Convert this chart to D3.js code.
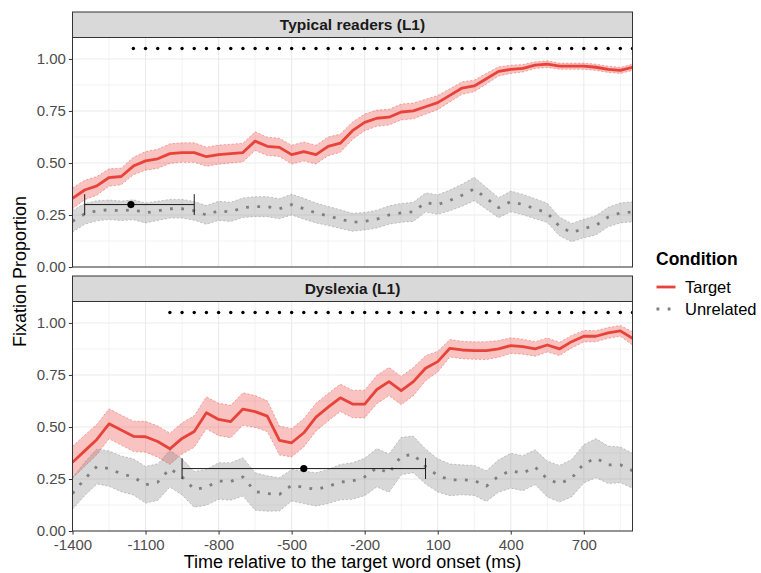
<!DOCTYPE html>
<html>
<head>
<meta charset="utf-8">
<script src="https://cdnjs.cloudflare.com/ajax/libs/d3/7.8.5/d3.min.js"></script>
<style>
body { margin: 0; background: #fff; }
text { font-family: "Liberation Sans", Arial, Helvetica, sans-serif; }
</style>
</head>
<body>
<div id="container1"></div>
<script>
// time bins (ms)
const times = [-1400,-1350,-1300,-1250,-1200,-1150,-1100,-1050,-1000,-950,-900,-850,-800,-750,-700,-650,-600,-550,-500,-450,-400,-350,-300,-250,-200,-150,-100,-50,0,50,100,150,200,250,300,350,400,450,500,550,600,650,700,750,800,850,900];

// Typical readers
const typicalTarget = [0.33,0.37,0.39,0.43,0.435,0.485,0.51,0.52,0.545,0.55,0.55,0.53,0.54,0.545,0.55,0.605,0.58,0.575,0.54,0.555,0.54,0.58,0.595,0.655,0.695,0.715,0.72,0.745,0.75,0.77,0.79,0.825,0.86,0.87,0.905,0.94,0.95,0.955,0.97,0.975,0.965,0.965,0.965,0.96,0.95,0.945,0.96];
const typicalTargetCI = [0.05,0.047,0.045,0.042,0.04,0.042,0.045,0.046,0.047,0.047,0.047,0.046,0.046,0.045,0.045,0.045,0.044,0.044,0.045,0.046,0.045,0.045,0.044,0.042,0.04,0.039,0.038,0.038,0.038,0.036,0.034,0.032,0.03,0.028,0.026,0.022,0.02,0.018,0.016,0.016,0.015,0.015,0.015,0.015,0.015,0.015,0.015];
const typicalUnrelated = [0.22,0.255,0.27,0.275,0.27,0.275,0.26,0.27,0.28,0.28,0.27,0.25,0.27,0.265,0.285,0.29,0.29,0.28,0.30,0.28,0.26,0.245,0.23,0.215,0.22,0.23,0.25,0.26,0.265,0.31,0.30,0.32,0.345,0.375,0.33,0.285,0.315,0.30,0.28,0.26,0.195,0.165,0.185,0.20,0.24,0.26,0.265];
const typicalUnrelatedCI = [0.052,0.05,0.048,0.047,0.047,0.048,0.048,0.046,0.045,0.045,0.045,0.045,0.046,0.046,0.047,0.048,0.048,0.048,0.05,0.05,0.048,0.046,0.045,0.043,0.042,0.043,0.044,0.045,0.046,0.046,0.047,0.05,0.053,0.056,0.052,0.048,0.05,0.049,0.048,0.046,0.045,0.044,0.045,0.046,0.047,0.048,0.048];

// Dyslexia
const dyslexiaTarget = [0.33,0.385,0.44,0.515,0.485,0.455,0.453,0.43,0.395,0.445,0.478,0.568,0.536,0.526,0.586,0.574,0.552,0.435,0.424,0.472,0.547,0.595,0.64,0.61,0.61,0.68,0.718,0.675,0.718,0.782,0.814,0.878,0.87,0.867,0.867,0.875,0.891,0.886,0.875,0.894,0.875,0.91,0.936,0.936,0.952,0.962,0.926];
const dyslexiaTargetCI = [0.077,0.075,0.073,0.072,0.072,0.073,0.074,0.075,0.075,0.075,0.076,0.077,0.078,0.078,0.078,0.077,0.074,0.07,0.068,0.068,0.067,0.066,0.066,0.066,0.067,0.068,0.068,0.068,0.068,0.06,0.05,0.042,0.042,0.042,0.043,0.04,0.038,0.036,0.035,0.034,0.032,0.03,0.028,0.027,0.026,0.026,0.032];
const dyslexiaUnrelated = [0.18,0.25,0.31,0.30,0.275,0.26,0.222,0.235,0.30,0.26,0.20,0.21,0.24,0.238,0.26,0.19,0.18,0.176,0.22,0.21,0.20,0.214,0.235,0.24,0.26,0.304,0.278,0.36,0.368,0.31,0.267,0.246,0.246,0.243,0.216,0.264,0.29,0.278,0.307,0.25,0.227,0.254,0.323,0.35,0.318,0.318,0.29];
const dyslexiaUnrelatedCI = [0.076,0.08,0.084,0.085,0.086,0.087,0.088,0.088,0.088,0.087,0.086,0.086,0.088,0.09,0.092,0.09,0.085,0.08,0.076,0.078,0.08,0.082,0.085,0.088,0.09,0.092,0.092,0.09,0.088,0.084,0.08,0.076,0.072,0.072,0.074,0.078,0.084,0.084,0.084,0.086,0.088,0.09,0.092,0.094,0.09,0.086,0.084];

// significant bins start (dots at 1.05) and divergence point estimates
const panelNames = ['Typical readers (L1)', 'Dyslexia (L1)'];
const sigStart = [-1150, -1000];
const divergence = [{mean: -1160, lo: -1350, hi: -900, y: 0.30}, {mean: -450, lo: -950, hi: 50, y: 0.30}];

const xTicks = [-1400,-1100,-800,-500,-200,100,400,700];
const xMinor = [-1250,-950,-650,-350,-50,250,550,850];
const yTicks = [0, 0.25, 0.5, 0.75, 1];
const yMinor = [0.125, 0.375, 0.625, 0.875];

const conditions = ['Target', 'Unrelated'];
const colors = {Target: '#E8433A', Unrelated: '#7F7F7F'};

const W = 761, H = 573;
const left = 72.5, right = 632.5;
const panelTops = [37.5, 301.5];
const panelH = 229.5;
const stripH = 25.5;

const panels = [
    {name: panelNames[0], Target: typicalTarget, TargetCI: typicalTargetCI, Unrelated: typicalUnrelated, UnrelatedCI: typicalUnrelatedCI},
    {name: panelNames[1], Target: dyslexiaTarget, TargetCI: dyslexiaTargetCI, Unrelated: dyslexiaUnrelated, UnrelatedCI: dyslexiaUnrelatedCI}
];

const x = d3.scaleLinear().domain([-1400, 900]).range([left, right]);

let svg = d3.select('div#container1')
    .append('svg')
    .attr('width', W)
    .attr('height', H)
    .style('background-color', 'white');

panels.forEach(function(p, pi){
    const top = panelTops[pi];
    const bottom = top + panelH;
    const y = d3.scaleLinear().domain([0, 1.103]).range([bottom, top]);

    let g = svg.append('g');

    g.append('clipPath').attr('id', 'clip' + pi)
        .append('rect')
        .attr('x', left).attr('y', top)
        .attr('width', right - left).attr('height', panelH);

    // strip
    g.append('rect')
        .attr('x', left).attr('y', top - stripH)
        .attr('width', right - left).attr('height', stripH)
        .style('fill', '#D9D9D9')
        .style('stroke', '#333333')
        .style('stroke-width', 1);
    g.append('text')
        .attr('x', (left + right) / 2)
        .attr('y', top - stripH / 2 + 5.5)
        .attr('text-anchor', 'middle')
        .style('font-size', '15.5px')
        .style('font-weight', 'bold')
        .style('fill', '#1A1A1A')
        .text(p.name);

    // grid
    g.selectAll('.xminor').data(xMinor).enter().append('line')
        .attr('x1', d => x(d)).attr('x2', d => x(d))
        .attr('y1', top).attr('y2', bottom)
        .style('stroke', '#EBEBEB').style('stroke-width', 0.6);
    g.selectAll('.yminor').data(yMinor).enter().append('line')
        .attr('x1', left).attr('x2', right)
        .attr('y1', d => y(d)).attr('y2', d => y(d))
        .style('stroke', '#EBEBEB').style('stroke-width', 0.6);
    g.selectAll('.xmajor').data(xTicks).enter().append('line')
        .attr('x1', d => x(d)).attr('x2', d => x(d))
        .attr('y1', top).attr('y2', bottom)
        .style('stroke', '#EBEBEB').style('stroke-width', 1.1);
    g.selectAll('.ymajor').data(yTicks).enter().append('line')
        .attr('x1', left).attr('x2', right)
        .attr('y1', d => y(d)).attr('y2', d => y(d))
        .style('stroke', '#EBEBEB').style('stroke-width', 1.1);

    let plot = g.append('g').attr('clip-path', 'url(#clip' + pi + ')');

    // ribbons
    conditions.forEach(function(c){
        const rows = times.map((t, i) => ({t: t, m: p[c][i], lo: p[c][i] - p[c + 'CI'][i], hi: p[c][i] + p[c + 'CI'][i]}));
        plot.append('path')
            .datum(rows)
            .attr('d', d3.area().x(d => x(d.t)).y0(d => y(d.lo)).y1(d => y(d.hi)))
            .style('fill', colors[c])
            .style('fill-opacity', c == 'Target' ? 0.32 : 0.3)
            .style('stroke', 'none');
        ['lo', 'hi'].forEach(function(k){
            plot.append('path')
                .datum(rows)
                .attr('d', d3.line().x(d => x(d.t)).y(d => y(d[k])))
                .style('fill', 'none')
                .style('stroke', colors[c])
                .style('stroke-opacity', 0.7)
                .style('stroke-width', 0.6)
                .style('stroke-dasharray', '2,2');
        });
    });

    // mean lines
    conditions.forEach(function(c){
        const rows = times.map((t, i) => ({t: t, m: p[c][i]}));
        let path = plot.append('path')
            .datum(rows)
            .attr('d', d3.line().x(d => x(d.t)).y(d => y(d.m)))
            .style('fill', 'none')
            .style('stroke', colors[c])
            .style('stroke-width', 2.8)
            .style('stroke-linejoin', 'round');
        if (c == 'Unrelated') path.style('stroke-dasharray', '2.8,8.4');
    });

    // significance dots
    plot.selectAll('.sig')
        .data(times.filter(t => t >= sigStart[pi]))
        .enter().append('circle')
        .attr('cx', d => x(d))
        .attr('cy', y(1.05))
        .attr('r', 1.7)
        .style('fill', 'black');

    // divergence point with range
    const dv = divergence[pi];
    plot.append('line')
        .attr('x1', x(dv.lo)).attr('x2', x(dv.hi))
        .attr('y1', y(dv.y)).attr('y2', y(dv.y))
        .style('stroke', '#1A1A1A').style('stroke-width', 1);
    [dv.lo, dv.hi].forEach(function(v){
        plot.append('line')
            .attr('x1', x(v)).attr('x2', x(v))
            .attr('y1', y(dv.y - 0.05)).attr('y2', y(dv.y + 0.05))
            .style('stroke', '#1A1A1A').style('stroke-width', 1);
    });
    plot.append('circle')
        .attr('cx', x(dv.mean)).attr('cy', y(dv.y))
        .attr('r', 3.6)
        .style('fill', 'black');

    // border
    g.append('rect')
        .attr('x', left).attr('y', top)
        .attr('width', right - left).attr('height', panelH)
        .style('fill', 'none')
        .style('stroke', '#333333')
        .style('stroke-width', 1);

    // y axis
    let yAxis = g.append('g')
        .attr('transform', 'translate(' + left + ',0)')
        .call(d3.axisLeft(y).tickValues(yTicks).tickFormat(d3.format('.2f')).tickSize(3.6).tickPadding(3));
    yAxis.select('.domain').remove();
    yAxis.selectAll('line').style('stroke', '#333333');
    yAxis.selectAll('text')
        .style('font-size', '15px')
        .style('fill', '#4D4D4D')
        .style('font-family', '"Liberation Sans", Arial, sans-serif');

    // x axis only on the bottom panel
    if (pi == panels.length - 1) {
        let xAxis = g.append('g')
            .attr('transform', 'translate(0,' + bottom + ')')
            .call(d3.axisBottom(x).tickValues(xTicks).tickFormat(d => String(d)).tickSize(3.6).tickPadding(4.5));
        xAxis.select('.domain').remove();
        xAxis.selectAll('line').style('stroke', '#333333');
        xAxis.selectAll('text')
            .style('font-size', '15px')
            .style('fill', '#4D4D4D')
            .style('font-family', '"Liberation Sans", Arial, sans-serif');
    }
});

// axis titles
svg.append('text')
    .attr('x', (left + right) / 2)
    .attr('y', 568)
    .attr('text-anchor', 'middle')
    .style('font-size', '18px')
    .text('Time relative to the target word onset (ms)');
svg.append('text')
    .attr('transform', 'translate(26,' + ((12 + 531) / 2) + ') rotate(-90)')
    .attr('text-anchor', 'middle')
    .style('font-size', '18px')
    .text('Fixation Proportion');

// legend
let legend = svg.append('g');
legend.append('text')
    .attr('x', 656)
    .attr('y', 265)
    .style('font-size', '17.5px')
    .style('font-weight', 'bold')
    .text('Condition');
conditions.forEach(function(c, i){
    const ly = 287 + i * 22;
    let key = legend.append('line')
        .attr('x1', 656.5).attr('x2', 675.5)
        .attr('y1', ly).attr('y2', ly)
        .style('stroke', colors[c])
        .style('stroke-width', 2.8);
    if (c == 'Unrelated') key.style('stroke-dasharray', '2.8,8.4');
    legend.append('text')
        .attr('x', 685)
        .attr('y', ly + 6)
        .style('font-size', '16.5px')
        .text(c);
});
</script>
</body>
</html>
